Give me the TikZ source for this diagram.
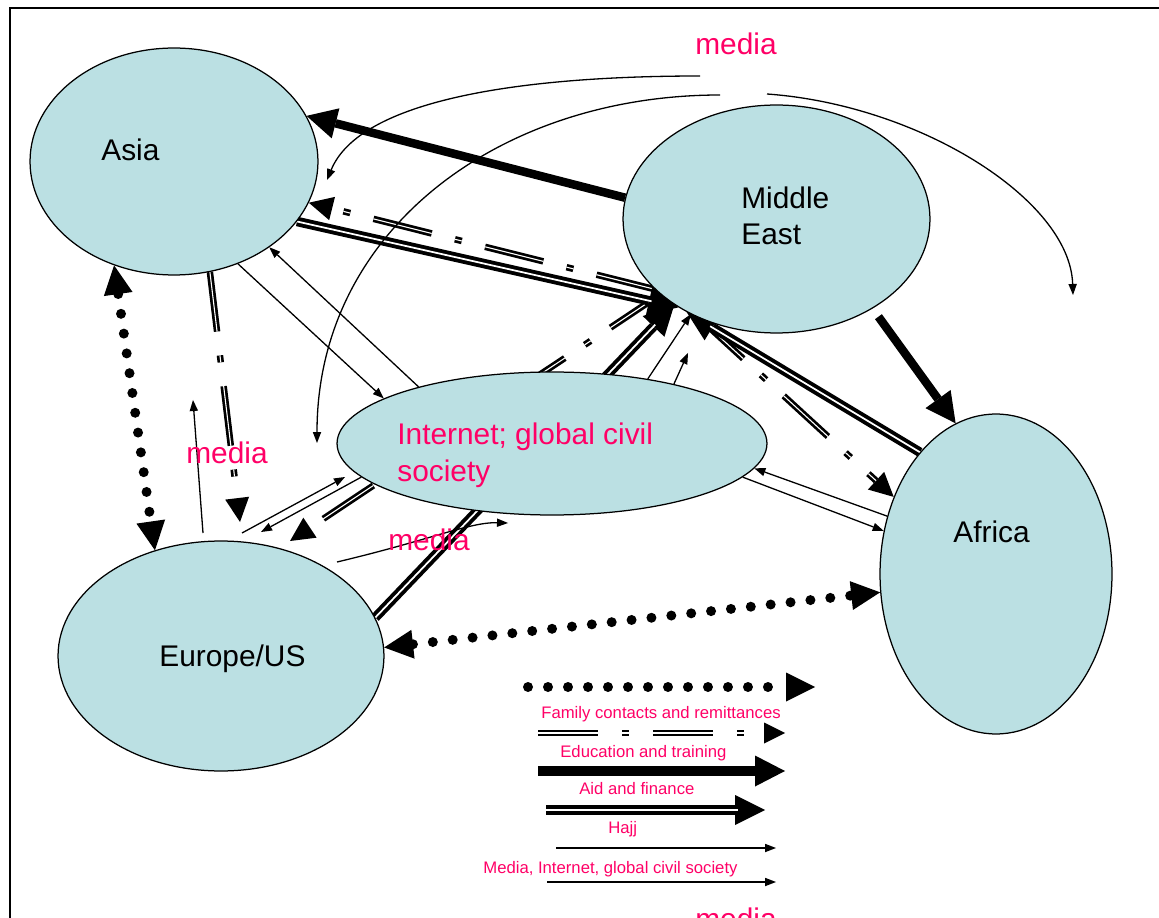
\documentclass[tikz,border=0pt]{standalone}
\usepackage{fontspec}
\setmainfont{Liberation Sans}
\usetikzlibrary{arrows.meta,shapes.geometric}
\definecolor{regionblue}{RGB}{187,224,227}
\definecolor{mediapink}{RGB}{255,0,102}
\pgfdeclarelayer{bg}
\pgfsetlayers{bg,main}
\tikzset{
  famtip/.tip={Triangle[length=0.58cm,width=0.58cm,line width=0pt]},
  edutip/.tip={Triangle[length=0.48cm,width=0.48cm,line width=0pt]},
  aidtip/.tip={Triangle[length=0.6cm,width=0.62cm,line width=0pt]},
  hajjtip/.tip={Triangle[length=0.6cm,width=0.6cm,line width=0pt]},
  nettip/.tip={Triangle[length=0.22cm,width=0.17cm,line width=0pt]},
  region/.style={ellipse, draw, line width=0.025cm, fill=regionblue, inner sep=0pt},
  lbl/.style={font=\fontsize{17}{21}\selectfont, inner sep=0pt, anchor=base west},
  medialbl/.style={lbl, text=mediapink},
  keylbl/.style={font=\fontsize{9.5}{11}\selectfont, text=mediapink, inner sep=0pt, anchor=base west},
  famline/.style={line width=0.2cm, line cap=round, dash pattern=on 0pt off 0.4cm},
  eduline/.style={line width=0.13cm, dash pattern=on 1.2cm off 0.48cm on 0.14cm off 0.48cm, -edutip,
    postaction={draw=white, line width=0.022cm, arrows=-, shorten >=0.48cm}},
  aidline/.style={line width=0.17cm, -aidtip},
  hajjline/.style={line width=0.19cm, -hajjtip,
    postaction={draw=white, line width=0.035cm, arrows=-, shorten >=0.55cm}},
  netline/.style={line width=0.026cm, -nettip}
}
\begin{document}
\begin{tikzpicture}[x=0.02cm, y=-0.02cm]
  \useasboundingbox (0,0) rectangle (1159,918);
  \clip (0,0) rectangle (1159,918);
  \draw[line width=0.04cm] (10,918) -- (10,8) -- (1159,8);

  % the five regions
  \node[region, minimum width=5.76cm, minimum height=4.54cm] (asia) at (174,161.5) {};
  \node[region, minimum width=6.14cm, minimum height=4.56cm] (me) at (776.5,219) {};
  \node[region, minimum width=8.6cm, minimum height=2.86cm] (inet) at (552,443.5) {};
  \node[region, minimum width=6.52cm, minimum height=4.6cm] (europe) at (221,656) {};
  \node[region, minimum width=4.64cm, minimum height=6.4cm] (africa) at (996,574) {};

  \node[lbl] (asialbl) at (101,161) {Asia};
  \node[lbl, align=left] (melbl) at (741,245) {Middle\\East};
  \node[medialbl, align=left] (inetlbl) at (397,481) {Internet; global civil\\society};
  \node[lbl] (europelbl) at (159,666) {Europe/US};
  \node[lbl] (africalbl) at (953,542) {Africa};
  \node[medialbl] (mediatop) at (695,55) {media};
  \node[medialbl] (medialeft) at (186,463) {media};
  \node[medialbl] (mediamid) at (388,550) {media};
  \node[medialbl] (mediabot) at (695,929) {media};

  % free ends
  \coordinate (eduasiaend) at (240,522);
  \coordinate (edueurend) at (290,541);
  \coordinate (eunetA) at (242,533);
  \coordinate (eunetB) at (345,477);
  \coordinate (neteuB) at (261,532);
  \coordinate (euupA) at (203,533);
  \coordinate (euupB) at (193,400);
  \coordinate (eurightA) at (337,562);
  \coordinate (eurightB) at (508,523);
  \coordinate (netupB) at (688,353);
  \coordinate (arconeA) at (700,76);
  \coordinate (arconeB) at (327,180);
  \coordinate (arctwoA) at (720,95);
  \coordinate (arctwoB) at (317,443);
  \coordinate (arcthreeA) at (767,94);
  \coordinate (arcthreeB) at (1073,295);

  \begin{pgfonlayer}{bg}
    % family contacts and remittances
    \draw[famline, famtip-famtip] (asia.240) -- (europe.122);
    \draw[famline, famtip-famtip] (europe.3) -- (africa.189);
    % education and training
    \draw[eduline] (me.210) -- (asia.343);
    \draw[eduline] (asia.288) -- (eduasiaend);
    \draw[eduline] (me.232) -- (africa.143);
    \draw[eduline] (me.213) -- (edueurend);
    % aid and finance
    \draw[aidline] (me.172) -- (asia.19);
    \draw[aidline, shorten <=0.2cm] (me.317) -- (africa.105);
    % hajj
    \draw[hajjline] (asia.334) -- (me.222);
    \draw[hajjline] (europe.14) -- (me.220);
    \draw[hajjline] (africa.122) -- (me.226);
    % media, internet, global civil society
    \draw[netline] (asia.302) -- (inet.165);
    \draw[netline] (inet.157) -- (asia.318);
    \draw[netline] (eunetA) -- (eunetB);
    \draw[netline] (inet.190) -- (neteuB);
    \draw[netline] (euupA) -- (euupB);
    \draw[netline] (eurightA) .. controls (430,540) and (470,522) .. (eurightB);
    \draw[netline] (inet.34) -- (me.228);
    \draw[netline] (inet.26) -- (netupB);
    \draw[netline] (inet.350) -- (africa.159);
    \draw[netline] (africa.152) -- (inet.353);
    \draw[netline] (arconeA) .. controls (520,76) and (360,100) .. (arconeB);
    \draw[netline] (arctwoA) .. controls (500,95) and (317,230) .. (arctwoB);
    \draw[netline] (arcthreeA) .. controls (920,105) and (1070,200) .. (arcthreeB);
  \end{pgfonlayer}

  % key
  \coordinate (keyfamA) at (528,687);
  \coordinate (keyfamB) at (815,687);
  \coordinate (keyeduA) at (538,733);
  \coordinate (keyeduB) at (785,733);
  \coordinate (keyaidA) at (538,771);
  \coordinate (keyaidB) at (785,771);
  \coordinate (keyhajjA) at (546,810);
  \coordinate (keyhajjB) at (765,810);
  \coordinate (keynetA) at (556,848);
  \coordinate (keynetB) at (776,848);
  \coordinate (keymedA) at (547,882);
  \coordinate (keymedB) at (776,882);
  \draw[famline, -famtip] (keyfamA) -- (keyfamB);
  \draw[eduline, -{Triangle[length=0.42cm,width=0.42cm,line width=0pt]}] (keyeduA) -- (keyeduB);
  \draw[aidline, line width=0.2cm] (keyaidA) -- (keyaidB);
  \draw[hajjline] (keyhajjA) -- (keyhajjB);
  \draw[netline] (keynetA) -- (keynetB);
  \draw[netline] (keymedA) -- (keymedB);
  \node[keylbl] (keyfam) at (541,718) {Family contacts and remittances};
  \node[keylbl] (keyedu) at (560,757) {Education and training};
  \node[keylbl] (keyaid) at (579,794) {Aid and finance};
  \node[keylbl] (keyhajj) at (608,833) {Hajj};
  \node[keylbl] (keynet) at (483,873) {Media, Internet, global civil society};
\end{tikzpicture}
\end{document}
